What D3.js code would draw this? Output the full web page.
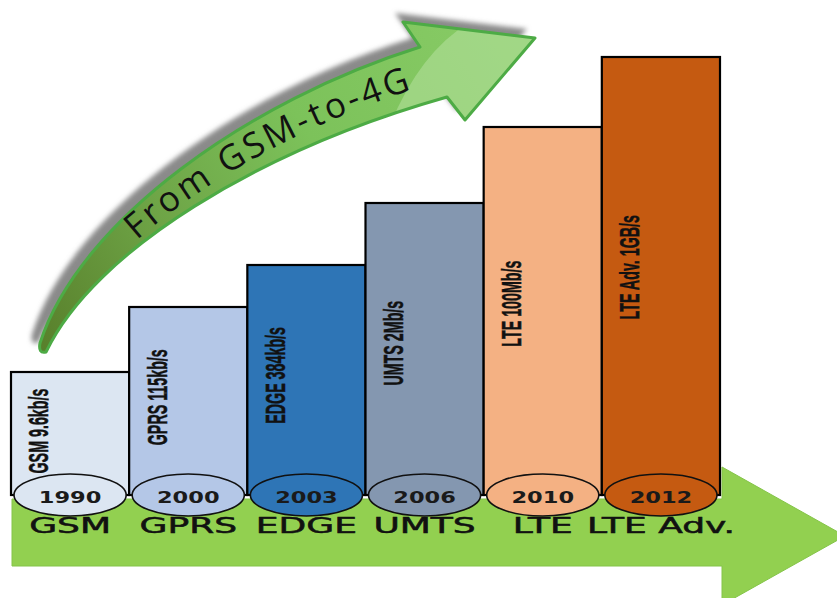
<!DOCTYPE html>
<html>
<head>
<meta charset="utf-8">
<script src="https://cdn.jsdelivr.net/npm/d3@7"></script>
<style>
  html, body { margin: 0; padding: 0; background: #fff; }
  svg { display: block; }
</style>
</head>
<body>
<svg id="chart" width="837" height="598"></svg>
<script>
// Mobile generations, their launch years and peak data rates
const generations = ["GSM", "GPRS", "EDGE", "UMTS", "LTE", "LTE Adv."];
const launchYears = ["1990", "2000", "2003", "2006", "2010", "2012"];
const speedLabels = ["GSM 9.6kb/s", "GPRS 115kb/s", "EDGE 384kb/s", "UMTS 2Mb/s", "LTE 100Mb/s", "LTE Adv. 1GB/s"];
// relative step height of each generation's column
const stepHeights = [123, 188, 230, 292, 368, 438];
const barColors = ["#dce6f2", "#b4c7e7", "#2e75b6", "#8497b0", "#f4b183", "#c55a11"];
const arrowTitle = "From GSM-to-4G";

const W = 837, H = 598;
const svg = d3.select("#chart");
const defs = svg.append("defs");

const baseY = 495;
const x = d3.scaleBand().domain(generations).range([11, 720]).padding(0);
const y = d3.scaleLinear().domain([0, d3.max(stepHeights)]).range([baseY, 57]);
const bw = x.bandwidth();
const [r0, r1] = x.range();

// ---- straight timeline arrow along the bottom ----
const timeline = [
  [r0 + 1, 499], [r1 + 2, 499], [r1 + 2, 467], [845, 536],
  [r1 + 2, 605], [r1 + 2, 566], [r0 + 1, 566]
];
svg.append("path")
  .attr("d", d3.line()(timeline) + "Z")
  .attr("fill", "#92d050")
  .attr("stroke", "#84c448")
  .attr("stroke-width", 1);

// ---- columns ----
const rows = generations.map((g, i) => ({
  g, year: launchYears[i], speed: speedLabels[i], h: stepHeights[i], color: barColors[i]
}));

svg.append("g").selectAll("rect")
  .data(rows).join("rect")
  .attr("x", d => x(d.g))
  .attr("y", d => y(d.h))
  .attr("width", bw)
  .attr("height", d => baseY - y(d.h))
  .attr("fill", d => d.color)
  .attr("stroke", "#000")
  .attr("stroke-width", 2.2);

// rotated data-rate labels inside each column
svg.append("g").selectAll("g")
  .data(rows).join("g")
  .attr("transform", d => `translate(${x(d.g) + 28},${baseY - (baseY - y(d.h)) * 0.52}) rotate(-90) scale(0.51,1)`)
  .append("text")
  .attr("text-anchor", "middle")
  .attr("dominant-baseline", "central")
  .attr("font-family", "'Liberation Sans', Arial, sans-serif")
  .attr("font-weight", "bold")
  .attr("font-size", 28)
  .attr("fill", "#111")
  .attr("stroke", "#111")
  .attr("stroke-width", 0.5)
  .text(d => d.speed);

// year ellipses at the foot of each column
svg.append("g").selectAll("ellipse")
  .data(rows).join("ellipse")
  .attr("cx", d => x(d.g) + bw / 2)
  .attr("cy", baseY)
  .attr("rx", bw / 2 - 3)
  .attr("ry", 21)
  .attr("fill", d => d.color)
  .attr("stroke", "#111")
  .attr("stroke-width", 1.6);

svg.append("g").selectAll("g")
  .data(rows).join("g")
  .attr("transform", d => `translate(${x(d.g) + bw / 2},${baseY + 7.5}) scale(1,0.68)`)
  .append("text")
  .attr("text-anchor", "middle")
  .attr("font-family", "'DejaVu Sans', Verdana, sans-serif")
  .attr("font-weight", "bold")
  .attr("font-size", 22.5)
  .attr("fill", "#1a1a1a")
  .text(d => d.year);

// generation names on the timeline arrow
svg.append("g").selectAll("g")
  .data(rows).join("g")
  .attr("transform", d => `translate(${x(d.g) + bw / 2},533) scale(1,0.57)`)
  .append("text")
  .attr("text-anchor", "middle")
  .attr("font-family", "'DejaVu Sans', Verdana, sans-serif")
  .attr("font-size", 36)
  .attr("fill", "#111")
  .attr("stroke", "#111")
  .attr("stroke-width", 0.9)
  .text(d => d.g);

// ---- curved "progress" arrow ----
const curve = d3.path();
curve.moveTo(40, 343);
curve.bezierCurveTo(80, 220, 250, 100, 420, 47);
curve.lineTo(403, 22);
curve.lineTo(535, 38);
curve.lineTo(465, 120);
curve.lineTo(447, 97);
curve.bezierCurveTo(260, 150, 95, 250, 46, 352);
curve.quadraticCurveTo(38, 354, 40, 343);
curve.closePath();
const curveD = curve.toString();

const blur = defs.append("filter").attr("id", "soft").attr("x", "-10%").attr("y", "-10%").attr("width", "120%").attr("height", "120%");
blur.append("feGaussianBlur").attr("stdDeviation", 2.5);

const grad = defs.append("linearGradient").attr("id", "shaft")
  .attr("gradientUnits", "userSpaceOnUse")
  .attr("x1", 40).attr("y1", 350).attr("x2", 520).attr("y2", 40);
grad.append("stop").attr("offset", 0).attr("stop-color", "#587f2b");
grad.append("stop").attr("offset", 0.3).attr("stop-color", "#6ea446");
grad.append("stop").attr("offset", 0.6).attr("stop-color", "#7cc25a");
grad.append("stop").attr("offset", 1).attr("stop-color", "#88cb66");

defs.append("clipPath").attr("id", "arrowClip").append("path").attr("d", curveD);

svg.append("path")
  .attr("d", curveD)
  .attr("transform", "translate(-8,-9)")
  .attr("fill", "#8a8a8a")
  .attr("filter", "url(#soft)");

svg.append("path")
  .attr("d", curveD)
  .attr("fill", "url(#shaft)");

svg.append("path")
  .attr("d", "M470,22 Q420,52 390,125 L620,125 L620,22 Z")
  .attr("clip-path", "url(#arrowClip)")
  .attr("fill", "#c2e6ad")
  .attr("opacity", 0.45);

svg.append("path")
  .attr("d", curveD)
  .attr("fill", "none")
  .attr("stroke", "#4dab45")
  .attr("stroke-width", 3)
  .attr("stroke-linejoin", "round");

// title written along the middle of the curved shaft
const mid = defs.append("path").attr("id", "midline")
  .attr("d", "M43,347 C87,235 255,125 433,72");
const midNode = mid.node();
const total = midNode.getTotalLength();
function lengthAtX(tx) {
  let lo = 0, hi = total;
  for (let k = 0; k < 40; k++) {
    const m = (lo + hi) / 2;
    if (midNode.getPointAtLength(m).x < tx) lo = m; else hi = m;
  }
  return lo;
}
const s0 = lengthAtX(130), s1 = lengthAtX(408);

const title = svg.append("text")
  .attr("font-family", "'Open Sans', 'DejaVu Sans', sans-serif")
  .attr("font-size", 35)
  .attr("fill", "#111")
  .attr("dy", "0.3em");
title.append("textPath")
  .attr("href", "#midline")
  .attr("startOffset", s0)
  .text(arrowTitle);
const natural = title.node().getComputedTextLength();
const spacing = ((s1 - s0) - natural) / (arrowTitle.length - 1);
title.attr("letter-spacing", spacing);
</script>
</body>
</html>
